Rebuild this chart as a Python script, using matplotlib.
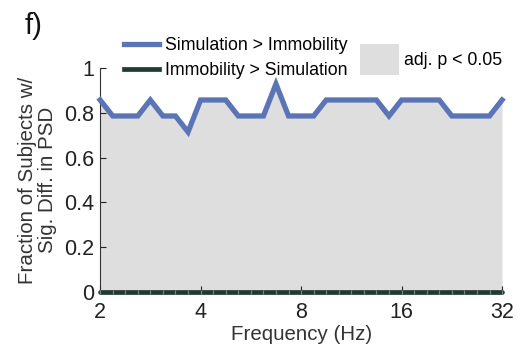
import matplotlib
matplotlib.use("Agg")
import matplotlib.pyplot as plt
from matplotlib.patches import Patch
from matplotlib.lines import Line2D
import numpy as np

plt.rcParams["font.family"] = ["Liberation Sans", "DejaVu Sans"]

# frequencies in 1/8-octave steps from 2 to 32 Hz
freqs = [2 ** (1 + k / 8) for k in range(33)]

# number of 14 subjects with significant PSD difference
sim_gt_imm = [12, 11, 11, 11, 12, 11, 11, 10, 12, 12, 12, 11, 11, 11, 13, 11, 11,
              11, 12, 12, 12, 12, 12, 11, 12, 12, 12, 12, 11, 11, 11, 11, 12]
imm_gt_sim = [0] * 33
n_subjects = 14

xticks = [2, 4, 8, 16, 32]
yticks = [0, 0.2, 0.4, 0.6, 0.8, 1]

blue = "#5a74b6"
green = "#1f3b31"
gray = "#dedede"

frac_sim = np.array(sim_gt_imm) / n_subjects
frac_imm = np.array(imm_gt_sim) / n_subjects

fig = plt.figure(figsize=(5.16, 3.56), dpi=100)
ax = fig.add_axes([0.194, 0.180, 0.779, 0.629])

# shade significant region (adj. p < 0.05) under the curve
ax.fill_between(freqs, frac_imm, frac_sim, color=gray, lw=0, zorder=1)
ax.plot(freqs, frac_sim, color=blue, lw=3.8,
        solid_joinstyle="miter", zorder=3, clip_on=False)
ax.plot(freqs, frac_imm, color=green, lw=3.4,
        marker="|", ms=2.5, mec="#7b8a84", mew=0.8,
        solid_capstyle="round", zorder=4, clip_on=False)

ax.set_xscale("log", base=2)
ax.set_xlim(2, 32)
ax.set_ylim(0, 1)
ax.set_xticks(xticks)
ax.set_xticklabels([str(t) for t in xticks])
ax.xaxis.set_minor_locator(matplotlib.ticker.NullLocator())
ax.set_yticks(yticks)
ax.set_yticklabels(["0", "0.2", "0.4", "0.6", "0.8", "1"])
ax.tick_params(direction="in", length=4, width=0.8, labelsize=15.5,
               colors="#222222")
ax.tick_params(axis="x", pad=7)
ax.tick_params(axis="y", pad=4)
for s in ["top", "right"]:
    ax.spines[s].set_visible(False)
for s in ["left", "bottom"]:
    ax.spines[s].set_color("#333333")
    ax.spines[s].set_linewidth(0.8)

ax.set_xlabel("Frequency (Hz)", fontsize=14.8, color="#333333", labelpad=2)
ax.set_ylabel("Fraction of Subjects w/\nSig. Diff. in PSD", fontsize=14.8,
              color="#333333", labelpad=5, linespacing=1.1)

line_handles = [
    Line2D([], [], color=blue, lw=3.8),
    Line2D([], [], color=green, lw=3.4),
]
leg1 = fig.legend(line_handles, ["Simulation > Immobility", "Immobility > Simulation"],
                  loc="upper left", bbox_to_anchor=(0.226, 0.915), frameon=False,
                  fontsize=12.8, handlelength=2.0, handletextpad=0.3,
                  labelspacing=0.42, borderaxespad=0)
leg2 = fig.legend([Patch(facecolor=gray, edgecolor="none")], ["adj. p < 0.05"],
                  loc="upper left", bbox_to_anchor=(0.683, 0.897), frameon=False,
                  fontsize=12.8, handlelength=2.2, handleheight=2.3,
                  handletextpad=0.3, borderaxespad=0)

fig.text(0.048, 0.905, "f)", fontsize=21, color="#111111")

fig.savefig("out.png", dpi=100)
